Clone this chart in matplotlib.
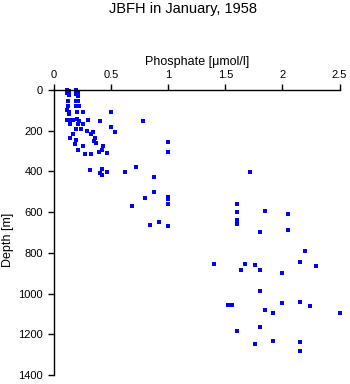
import matplotlib
matplotlib.use("Agg")
import matplotlib.pyplot as plt

plt.rcParams['font.family'] = ['Liberation Sans', 'DejaVu Sans']

title = "JBFH in January, 1958"
x_label = "Phosphate [\u03bcmol/l]"
y_label = "Depth [m]"

phosphate = [
    0.11, 0.13, 0.11, 0.13, 0.19, 0.21, 0.19, 0.21,
    0.12, 0.19, 0.21,
    0.12, 0.19, 0.22,
    0.11, 0.13, 0.20, 0.25, 0.50,
    0.13,
    0.11, 0.14, 0.17, 0.20, 0.22, 0.30, 0.40,
    0.14, 0.21, 0.25,
    0.78, 0.50,
    0.19, 0.24, 0.29, 0.345, 0.325, 0.535, 0.164,
    0.14, 0.19, 0.355, 0.35, 0.365,
    0.187, 0.257, 0.426,
    0.213, 0.418, 0.397, 0.464, 0.274, 0.324,
    1.00, 1.00,
    0.315, 0.42, 0.405, 0.42, 0.46,
    0.72, 0.62, 0.88, 0.88,
    1.00, 1.00, 1.00, 0.80, 0.68,
    0.92, 0.84, 1.00,
    1.72, 1.60, 1.60, 1.60, 1.60, 1.85, 2.05, 2.05, 1.80, 2.20,
    1.40, 1.675, 1.76, 1.64, 1.80, 2.00, 2.15, 2.29,
    1.80, 2.00, 2.15, 2.245, 1.52, 1.56, 1.85, 1.92, 2.50,
    1.80, 1.60, 1.92, 2.15, 1.76, 2.15,
]
depth = [
    0, 5, 15, 25, 0, 8, 18, 28,
    52, 52, 55,
    78, 78, 78,
    100, 110, 108, 110, 107,
    120,
    145, 148, 145, 143, 150, 147, 152,
    167, 167, 166,
    153, 182,
    192, 192, 199, 206, 216, 208, 214,
    236, 246, 236, 250, 259,
    265, 275, 273,
    294, 294, 304, 309, 314, 314,
    255, 304,
    395, 390, 406, 416, 402,
    379, 402, 426, 499,
    525, 537, 558, 532, 571,
    647, 665, 670,
    402, 558, 599, 637, 658, 594, 609, 688, 698, 793,
    857, 854, 859, 883, 885, 898, 844, 865,
    988, 1047, 1042, 1062, 1054, 1054, 1081, 1095, 1096,
    1164, 1182, 1231, 1239, 1249, 1280,
]
x_ticks = [0, 0.5, 1, 1.5, 2, 2.5]
x_tick_labels = ["0", "0.5", "1", "1.5", "2", "2.5"]
y_ticks = [0, 200, 400, 600, 800, 1000, 1200, 1400]

W, H = 350, 384
fig = plt.figure(figsize=(W / 100, H / 100), dpi=100)
ax = fig.add_axes([54 / W, 1 - 375 / H, (339.5 - 54) / W, (375 - 90) / H])

ax.plot(phosphate, depth, linestyle='none', marker='s', markersize=3.0,
        markeredgewidth=0, color='#0000ff', clip_on=False)

ax.set_xlim(0, 2.5)
ax.set_ylim(1400, 0)
ax.xaxis.tick_top()
ax.xaxis.set_label_position('top')
ax.set_xticks(x_ticks)
ax.set_xticklabels(x_tick_labels)
ax.set_yticks(y_ticks)
ax.tick_params(axis='both', direction='out', length=4, width=1.0,
               color='black', labelsize=8)
ax.tick_params(axis='x', pad=3)
ax.tick_params(axis='y', pad=4)
for s in ['bottom', 'right']:
    ax.spines[s].set_visible(False)
for s in ['top', 'left']:
    ax.spines[s].set_linewidth(1.0)

ax.set_xlabel(x_label, fontsize=9, labelpad=4)
fig.text(8 / W, 1 - 240 / H, y_label, rotation=90, ha='center', va='center',
         fontsize=9)
fig.text(0.5 + 8 / W, 1 - 9 / H, title, ha='center', va='center', fontsize=10.5)

fig.savefig("out.png", dpi=100)
